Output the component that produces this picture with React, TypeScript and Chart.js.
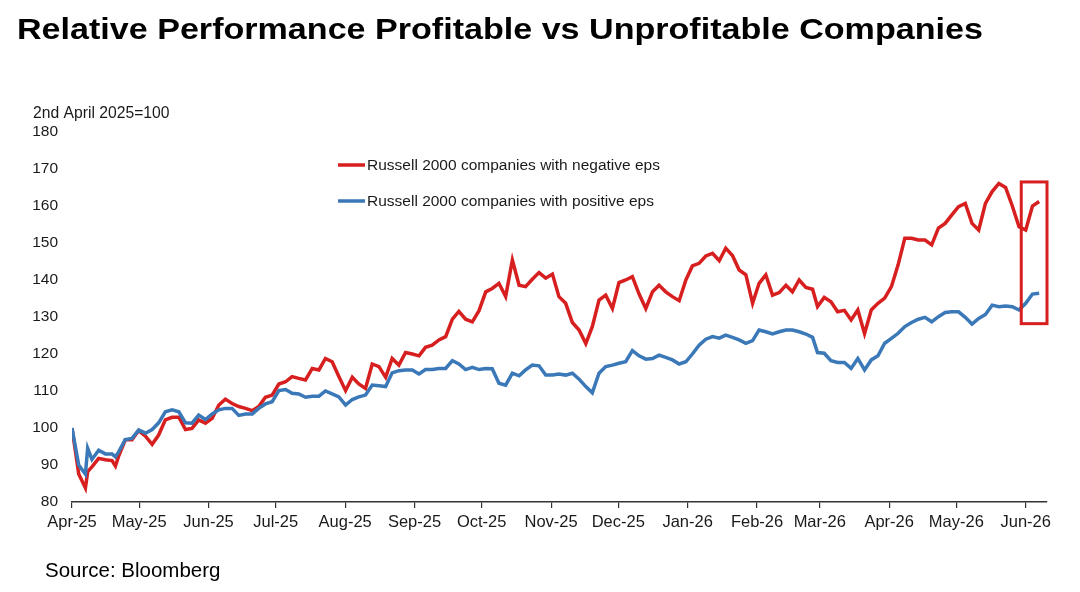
import { useEffect, useRef } from "react";
import { Chart, registerables } from "chart.js";

Chart.register(...registerables);

// Days since 1 April 2025
const days = [
  0, 3, 6, 7, 8.9, 11.9, 14.9, 17.9, 19.4, 20.9,
  23.8, 26.8, 29.8, 32.8, 35.8, 38.7, 41.7, 44.7, 47.7, 50.7,
  53.6, 56.6, 59.6, 62.6, 65.6, 68.5, 71.5, 74.5, 77.5, 80.5,
  83.4, 86.4, 89.4, 92.4, 95.4, 98.3, 101.3, 104.3, 107.3, 110.3,
  113.2, 116.2, 119.2, 122.2, 125.2, 128.1, 131.1, 134.1, 137.1, 140.1,
  143, 146, 149, 152, 155, 157.9, 160.9, 163.9, 166.9, 169.9,
  172.8, 175.8, 178.8, 181.8, 184.8, 187.7, 190.7, 193.7, 196.7, 199.7,
  202.6, 205.6, 208.6, 211.6, 214.6, 217.5, 220.5, 223.5, 226.5, 229.5,
  232.4, 235.4, 238.4, 241.4, 244.3, 247.3, 250.3, 253.3, 256.3, 259.3,
  262.2, 265.2, 268.2, 271.2, 274.2, 277.1, 280.1, 283.1, 286.1, 289.1,
  292, 295, 298, 301, 304, 306.9, 309.9, 312.9, 315.9, 318.9,
  321.8, 324.8, 327.8, 330.8, 333, 336, 339, 342, 345, 348,
  351, 354, 357, 360, 363, 366, 369, 372, 375, 378,
  381, 384, 387, 390, 393, 396, 399, 402, 405, 408,
  411, 414, 417, 420, 423, 426, 429, 432,
];

const negativeEps = [
  100, 87.6, 83.8, 88.2, 89.5, 91.8, 91.4, 91.2, 89.7, 92.5,
  96.8, 96.8, 99.3, 97.8, 95.6, 98.1, 102.2, 102.9, 102.9, 99.6,
  99.9, 102.2, 101.3, 102.6, 106.2, 107.8, 106.6, 105.8, 105.3, 104.7,
  105.8, 108.3, 108.9, 111.9, 112.5, 113.9, 113.4, 113.0, 116.1, 115.7,
  118.8, 117.9, 113.9, 110.1, 113.7, 111.9, 110.7, 117.3, 116.6, 113.7,
  118.8, 117.0, 120.4, 120.0, 119.5, 121.8, 122.4, 123.8, 124.7, 129.4,
  131.5, 129.4, 128.7, 131.7, 136.8, 137.7, 139.1, 135.5, 145.4, 138.6,
  138.2, 140.2, 142.0, 140.5, 141.6, 135.5, 133.7, 128.5, 126.5, 122.8,
  127.4, 134.6, 135.9, 132.3, 139.3, 140.0, 140.9, 136.2, 132.3, 136.8,
  138.6, 136.8, 135.5, 134.4, 140.0, 143.8, 144.5, 146.5, 147.2, 145.2,
  148.6, 146.6, 142.7, 141.4, 133.7, 139.1, 141.4, 135.9, 136.6, 138.6,
  136.8, 140.0, 138.0, 137.5, 132.8, 135.3, 134.1, 131.4, 131.8, 129.2,
  131.9, 125.5, 131.9, 133.7, 135.1, 138.2, 144.1, 151.3, 151.3, 150.8,
  150.8, 149.5, 154.0, 155.3, 157.6, 159.8, 160.7, 155.3, 153.5, 160.7,
  163.9, 166.1, 165.0, 160.0, 154.4, 153.5, 160.0, 161.2,
];

const positiveEps = [
  100, 90.0, 87.5, 94.5, 91.5, 94.0, 93.0, 93.0, 92.2, 93.6,
  96.9, 97.2, 99.5, 98.6, 99.6, 101.4, 104.4, 104.9, 104.4, 101.4,
  101.3, 103.5, 102.3, 103.8, 104.9, 105.3, 105.3, 103.4, 103.8, 103.8,
  105.3, 106.5, 107.1, 110.1, 110.4, 109.4, 109.2, 108.3, 108.6, 108.6,
  110.0, 109.2, 108.4, 106.2, 107.7, 108.4, 108.9, 111.6, 111.4, 111.2,
  114.9, 115.5, 115.7, 115.7, 114.6, 115.8, 115.8, 116.1, 116.1, 118.2,
  117.3, 115.8, 116.4, 115.8, 116.1, 116.0, 112.1, 111.6, 114.8, 114.1,
  115.7, 117.0, 116.8, 114.3, 114.3, 114.6, 114.3, 114.8, 113.2, 111.2,
  109.5, 114.8, 116.6, 117.0, 117.5, 117.9, 120.9, 119.5, 118.6, 118.8,
  119.7, 119.1, 118.4, 117.3, 117.9, 120.0, 122.4, 124.0, 124.7, 124.3,
  125.1, 124.5, 123.8, 122.9, 123.6, 126.5, 126.0, 125.4, 126.0, 126.5,
  126.5, 126.0, 125.4, 124.5, 120.4, 120.2, 118.2, 117.7, 117.7, 116.1,
  118.8, 115.7, 118.4, 119.5, 122.9, 124.2, 125.6, 127.4, 128.5, 129.4,
  129.9, 128.7, 130.1, 131.2, 131.4, 131.4, 129.9, 128.1, 129.6, 130.7,
  133.2, 132.8, 133.0, 132.8, 131.9, 133.7, 136.2, 136.4,
];

const seriesLabels = [
  "Russell 2000 companies with negative eps",
  "Russell 2000 companies with positive eps",
];

const monthTickDays = [0, 30, 61, 91, 122, 153, 183, 214, 244, 275, 306, 334, 365, 395, 426];
const monthTickLabels = [
  "Apr-25", "May-25", "Jun-25", "Jul-25", "Aug-25", "Sep-25", "Oct-25", "Nov-25",
  "Dec-25", "Jan-26", "Feb-26", "Mar-26", "Apr-26", "May-26", "Jun-26",
];

const yTicksRange = [80, 180];
const highlightBoxDays = [424, 435.5];
const highlightBoxValues = [128.2, 166.5];

const RED = "#d71f1f";
const BLUE = "#3a78b8";
const FONT = "'Liberation Sans', Arial, sans-serif";

const overlayPlugin = {
  id: "overlay",
  afterDatasetsDraw(chart: any) {
    const { ctx, scales } = chart;
    const x = scales.x;
    const y = scales.y;
    ctx.save();
    // highlight box
    const x0 = x.getPixelForValue(highlightBoxDays[0]);
    const x1 = x.getPixelForValue(highlightBoxDays[1]);
    const y0 = y.getPixelForValue(highlightBoxValues[1]);
    const y1 = y.getPixelForValue(highlightBoxValues[0]);
    ctx.strokeStyle = RED;
    ctx.lineWidth = 3;
    ctx.strokeRect(x0, y0, x1 - x0, y1 - y0);

    // legend inside chart
    const items = chart.data.datasets;
    const legendX = 338;
    const legendY = [165, 201];
    ctx.font = `15.5px ${FONT}`;
    ctx.textBaseline = "middle";
    ctx.textAlign = "left";
    [0, 1].forEach((di, i) => {
      const ds = items[di];
      ctx.strokeStyle = ds.borderColor;
      ctx.lineWidth = 3.5;
      ctx.beginPath();
      ctx.moveTo(legendX, legendY[i]);
      ctx.lineTo(legendX + 27, legendY[i]);
      ctx.stroke();
      ctx.fillStyle = "#1a1a1a";
      ctx.fillText(ds.label, legendX + 29, legendY[i] + 1);
    });

    // y-axis caption
    ctx.font = `15.7px ${FONT}`;
    ctx.textBaseline = "alphabetic";
    ctx.fillStyle = "#1a1a1a";
    ctx.fillText("2nd April 2025=100", 33, 118);
    ctx.restore();
  },
};

export default function App() {
  const canvasRef = useRef<HTMLCanvasElement | null>(null);

  useEffect(() => {
    document.body.style.margin = "0";
    const canvas = canvasRef.current;
    if (!canvas) return;
    const chart = new Chart(canvas, {
      type: "line",
      data: {
        datasets: [
          {
            label: seriesLabels[0],
            data: days.map((d, i) => ({ x: d, y: negativeEps[i] })),
            borderColor: RED,
            backgroundColor: RED,
            borderWidth: 3.5,
            pointRadius: 0,
            tension: 0,
            order: 2,
          },
          {
            label: seriesLabels[1],
            data: days.map((d, i) => ({ x: d, y: positiveEps[i] })),
            borderColor: BLUE,
            backgroundColor: BLUE,
            borderWidth: 3.5,
            pointRadius: 0,
            tension: 0,
            order: 1,
          },
        ],
      },
      options: {
        animation: false,
        responsive: false,
        maintainAspectRatio: false,
        layout: { padding: { top: 132, right: 33, left: 0, bottom: 0 } },
        plugins: {
          legend: { display: false },
          tooltip: { enabled: false },
          title: { display: false },
        },
        scales: {
          x: {
            type: "linear",
            min: 0,
            max: 435.5,
            afterBuildTicks: (scale: any) => {
              scale.ticks = monthTickDays.map((v) => ({ value: v }));
            },
            afterFit: (scale: any) => {
              scale.height = 90;
            },
            ticks: {
              autoSkip: false,
              maxRotation: 0,
              minRotation: 0,
              padding: 5,
              color: "#1a1a1a",
              font: { family: FONT, size: 16.5 },
              callback: (value: any) => {
                const idx = monthTickDays.indexOf(Number(value));
                return idx >= 0 ? monthTickLabels[idx] : "";
              },
            },
            grid: {
              display: true,
              drawOnChartArea: false,
              drawTicks: true,
              tickLength: 6,
              color: "#333333",
              lineWidth: 1.2,
            },
            border: { display: true, color: "#333333", width: 1.6 },
          },
          y: {
            min: yTicksRange[0],
            max: yTicksRange[1],
            afterFit: (scale: any) => {
              scale.width = 72;
            },
            ticks: {
              stepSize: 10,
              padding: 14,
              color: "#1a1a1a",
              font: { family: FONT, size: 15.5 },
            },
            grid: { display: false, drawTicks: false },
            border: { display: false },
          },
        },
      },
      plugins: [overlayPlugin],
    });
    return () => chart.destroy();
  }, []);

  return (
    <div style={{ position: "relative", width: 1080, height: 592, background: "#ffffff", overflow: "hidden" }}>
      <canvas ref={canvasRef} width={1080} height={592} style={{ position: "absolute", left: 0, top: 0, width: 1080, height: 592 }} />
      <div
        style={{
          position: "absolute",
          left: 17,
          top: 14,
          fontFamily: FONT,
          fontWeight: 700,
          fontSize: 30,
          lineHeight: "30px",
          color: "#000",
          whiteSpace: "nowrap",
          transform: "scaleX(1.136)",
          transformOrigin: "left top",
        }}
      >
        Relative Performance Profitable vs Unprofitable Companies
      </div>
      <div
        style={{
          position: "absolute",
          left: 45,
          top: 560,
          fontFamily: FONT,
          fontSize: 20.5,
          lineHeight: "20.5px",
          color: "#000",
          whiteSpace: "nowrap",
        }}
      >
        Source: Bloomberg
      </div>
    </div>
  );
}
